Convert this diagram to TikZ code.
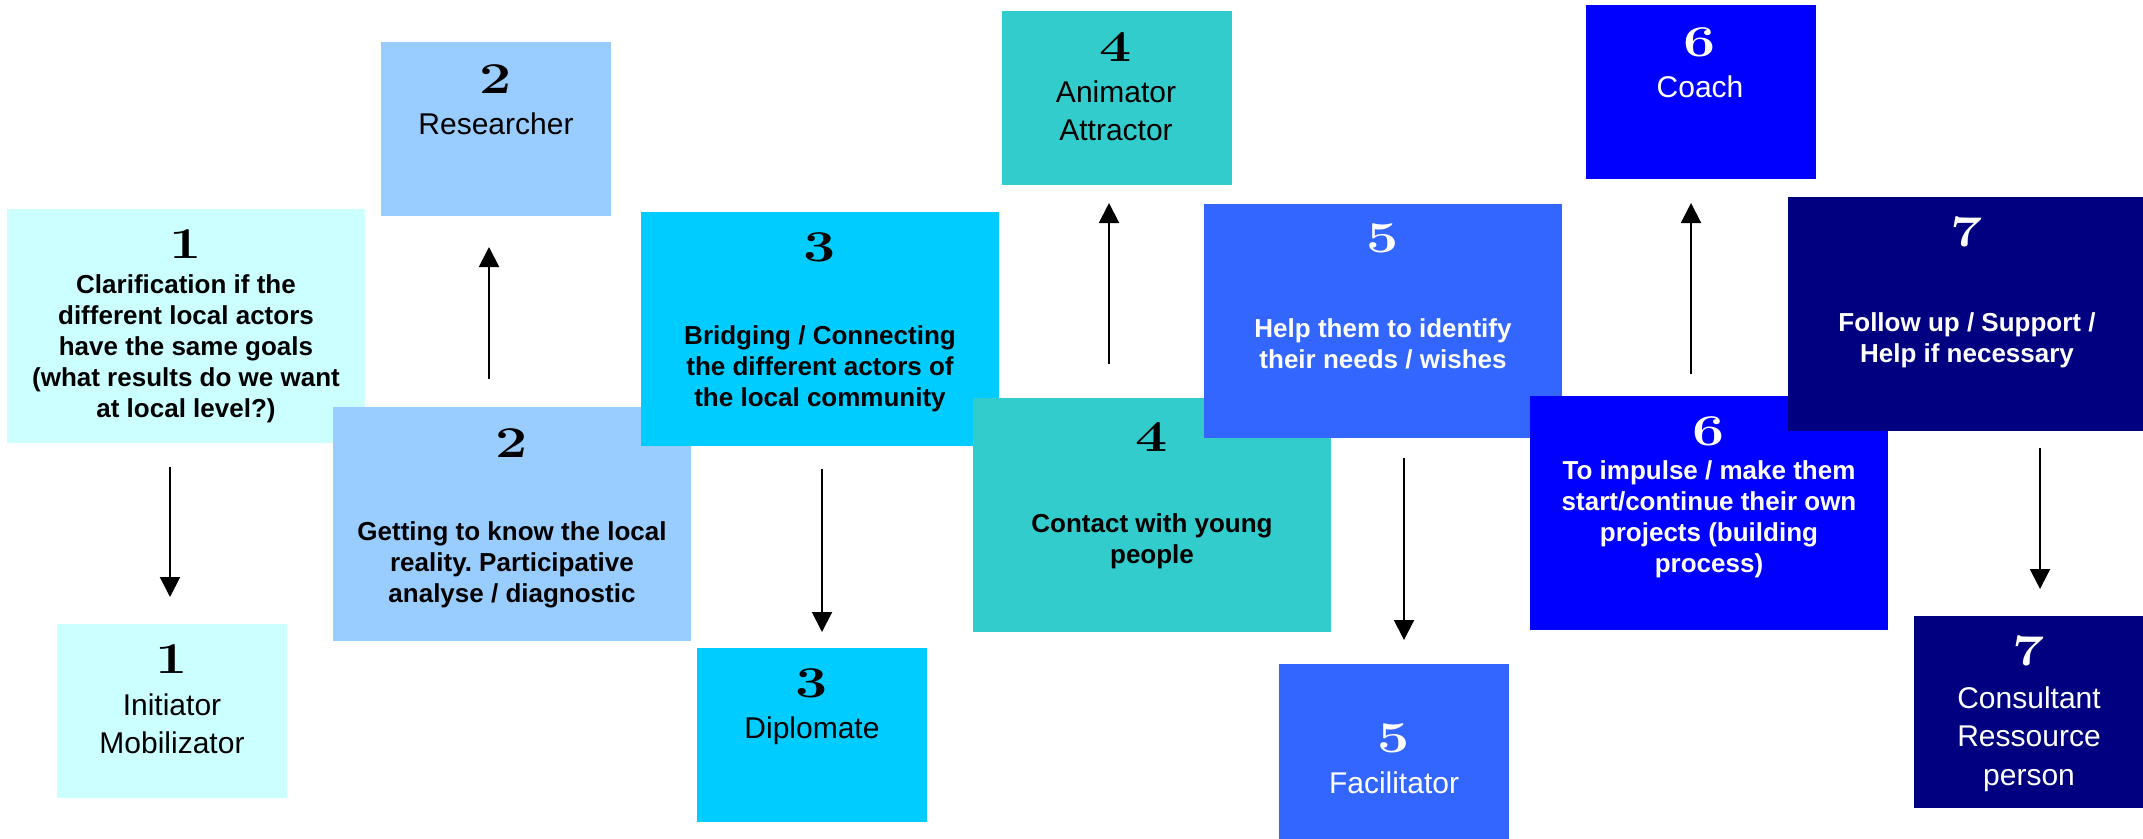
\documentclass[tikz,border=0pt]{standalone}
\usepackage{fontspec}
\usepackage{graphicx}
\setsansfont{Liberation Sans}
\usetikzlibrary{arrows.meta}
\frenchspacing
\definecolor{c1}{HTML}{CCFFFF}
\definecolor{c2}{HTML}{99CCFF}
\definecolor{c3}{HTML}{00CCFF}
\definecolor{c4}{HTML}{33CCCC}
\definecolor{c5}{HTML}{3366FF}
\definecolor{c6}{HTML}{0000FF}
\definecolor{c7}{HTML}{000080}
\newcommand{\dg}[1]{\scalebox{1.3}[1]{#1}}
\tikzset{
  box/.style={rectangle, inner sep=0pt, outer sep=0pt, anchor=north west, draw=none},
  big/.style={box, minimum width=358pt, minimum height=234pt},
  small/.style={box, minimum width=230pt, minimum height=174pt},
  num/.style={inner sep=0pt, anchor=center, font=\fontsize{44}{44}\selectfont\rmfamily\bfseries},
  desc/.style={inner sep=0pt, align=center, anchor=base, font=\fontsize{26}{31}\selectfont\sffamily\bfseries\frenchspacing},
  role/.style={inner sep=0pt, align=center, anchor=base, font=\fontsize{30}{38.5}\selectfont\sffamily},
  arr/.style={line width=2pt, -{Triangle[length=20pt,width=20pt]}},
}
\begin{document}
\begin{tikzpicture}[x=1pt,y=-1pt]
\useasboundingbox (0,0) rectangle (2143,838);
% boxes (later ones overlap earlier ones)
\node[big, fill=c1] (b1t) at (7,209) {};
\node[small, fill=c1] (b1b) at (57,624) {};
\node[small, fill=c2] (b2t) at (381,42) {};
\node[big, fill=c2] (b2b) at (333,407) {};
\node[big, fill=c3] (b3t) at (641,212) {};
\node[small, fill=c3] (b3b) at (697,648) {};
\node[small, fill=c4] (b4t) at (1002,11) {};
\node[big, fill=c4] (b4b) at (973,398) {};
\node[big, fill=c5] (b5t) at (1204,204) {};
\node[small, fill=c5, minimum height=180pt] (b5b) at (1279,664) {};
\node[small, fill=c6] (b6t) at (1586,5) {};
\node[big, fill=c6] (b6b) at (1530,396) {};
\node[big, fill=c7] (b7t) at (1788,197) {};
\node[small, fill=c7, minimum height=192pt] (b7b) at (1914,616) {};
% numbers
\node[num] (n1t) at (186,244) {\dg{1}};
\node[num] (n1b) at (172,659) {\dg{1}};
\node[num] (n2t) at (496,79) {\dg{2}};
\node[num] (n2b) at (512,443) {\dg{2}};
\node[num] (n3t) at (820,247) {\dg{3}};
\node[num] (n3b) at (812,683) {\dg{3}};
\node[num] (n4t) at (1116,47) {\dg{4}};
\node[num] (n4b) at (1152,437) {\dg{4}};
\node[num, text=white] (n5t) at (1383,238) {\dg{5}};
\node[num, text=white] (n5b) at (1394,738) {\dg{5}};
\node[num, text=white] (n6t) at (1700,42) {\dg{6}};
\node[num, text=white] (n6b) at (1709,431) {\dg{6}};
\node[num, text=white] (n7t) at (1967,232) {\dg{7}};
\node[num, text=white] (n7b) at (2029,651) {\dg{7}};
% descriptions (anchor = baseline of the last line)
\node[desc] (t1t) at (186,417) {Clarification if the\\different local actors\\have the same goals\\(what results do we want\\at local level?)};
\node[desc] (t2b) at (512,602) {Getting to know the local\\reality. Participative\\analyse / diagnostic};
\node[desc] (t3t) at (820,406) {Bridging / Connecting\\the different actors of\\the local community};
\node[desc] (t4b) at (1152,563) {Contact with young\\people};
\node[desc, text=white] (t5t) at (1383,368) {Help them to identify\\their needs / wishes};
\node[desc, text=white] (t6b) at (1709,572) {To impulse / make them\\start/continue their own\\projects (building\\process)};
\node[desc, text=white] (t7t) at (1967,362) {Follow up / Support /\\Help if necessary};
% roles
\node[role] (r1) at (172,753.5) {Initiator\\Mobilizator};
\node[role] (r2) at (496,134) {Researcher};
\node[role] (r3) at (812,738) {Diplomate};
\node[role] (r4) at (1116,140.5) {Animator\\Attractor};
\node[role, text=white] (r5) at (1394,793) {Facilitator};
\node[role, text=white] (r6) at (1700,97) {Coach};
\node[role, text=white] (r7) at (2029,785) {Consultant\\Ressource\\person};
% arrows
\coordinate (a1s) at (170,467); \coordinate (a1e) at (170,597);
\coordinate (a2s) at (489,379); \coordinate (a2e) at (489,247);
\coordinate (a3s) at (822,469); \coordinate (a3e) at (822,632);
\coordinate (a4s) at (1109,364); \coordinate (a4e) at (1109,203);
\coordinate (a5s) at (1404,458); \coordinate (a5e) at (1404,640);
\coordinate (a6s) at (1691,374); \coordinate (a6e) at (1691,203);
\coordinate (a7s) at (2040,448); \coordinate (a7e) at (2040,589);
\draw[arr] (a1s) -- (a1e);
\draw[arr] (a2s) -- (a2e);
\draw[arr] (a3s) -- (a3e);
\draw[arr] (a4s) -- (a4e);
\draw[arr] (a5s) -- (a5e);
\draw[arr] (a6s) -- (a6e);
\draw[arr] (a7s) -- (a7e);
\end{tikzpicture}
\end{document}
